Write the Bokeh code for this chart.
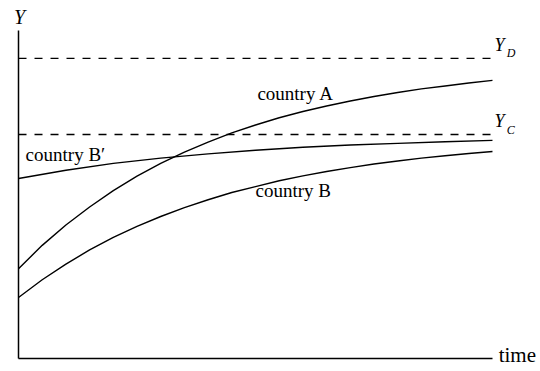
from bokeh.plotting import figure
from bokeh.models import Label, Range1d, LinearAxis, FixedTicker
from bokeh.embed import file_html
from bokeh.resources import INLINE

# ---- data ----
t_fine = [0, 0.5, 1, 1.5, 2, 2.5, 3, 3.5, 4, 4.5, 5, 5.5, 6, 6.5, 7, 7.5, 8, 8.5, 9, 9.5, 10]
country_a = [2.74, 3.45, 4.07, 4.62, 5.12, 5.56, 5.95, 6.29, 6.60, 6.88, 7.12,
             7.34, 7.53, 7.70, 7.85, 7.99, 8.11, 8.22, 8.31, 8.40, 8.48]
country_b = [1.86, 2.40, 2.88, 3.31, 3.69, 4.03, 4.33, 4.60, 4.84, 5.06, 5.24,
             5.42, 5.57, 5.70, 5.82, 5.93, 6.02, 6.11, 6.18, 6.25, 6.31]
t_coarse = [0, 1, 2, 3, 4, 5, 6, 7, 8, 9, 10]
country_b_prime = [5.49, 5.74, 5.95, 6.11, 6.24, 6.35, 6.44, 6.51, 6.56, 6.61, 6.65]
levels = [9.15, 6.83]          # Y_D, Y_C
level_names = ["D", "C"]
t_span = [0, 10]               # extent of the time axis
y_span = [0, 10]               # extent of the Y axis

SERIF = "Liberation Serif"

p = figure(width=540, height=371, output_backend="svg", toolbar_location=None,
           x_range=Range1d(-0.38, 11.013), y_range=Range1d(-0.396, 10.915),
           x_axis_location=None, y_axis_location=None,
           min_border=0, min_border_left=0, min_border_right=0,
           min_border_top=0, min_border_bottom=0)
p.outline_line_color = None
p.xgrid.visible = False
p.ygrid.visible = False
p.background_fill_color = "white"
p.border_fill_color = "white"

def make_axis(bounds):
    ax = LinearAxis(fixed_location=0, bounds=tuple(bounds), ticker=FixedTicker(ticks=[]),
                    axis_line_color="black", axis_line_width=1.5,
                    major_tick_line_color=None, minor_tick_line_color=None,
                    major_tick_out=0, major_tick_in=0, minor_tick_out=0, minor_tick_in=0,
                    major_label_standoff=0)
    return ax

p.add_layout(make_axis(y_span), "left")
p.add_layout(make_axis(t_span), "below")

# dashed reference levels
p.segment(x0=[t_span[0]] * len(levels), x1=[t_span[1]] * len(levels),
          y0=levels, y1=levels, line_color="black", line_width=1.3, line_dash="8 8")

# curves
p.line(t_fine, country_a, line_color="black", line_width=1.4)
p.line(t_fine, country_b, line_color="black", line_width=1.4)
p.line(t_coarse, country_b_prime, line_color="black", line_width=1.4)

def lab(x, y, text, size, style="normal", align="left"):
    p.add_layout(Label(x=x, y=y, text=text, text_font=SERIF, text_font_size=size,
                       text_font_style=style, text_align=align,
                       text_baseline="alphabetic", text_color="black"))

lab(5.04, 8.09, "country A", "19px")
lab(5.00, 5.12, "country B", "19px")
lab(0.15, 6.22, "country B\u2032", "19px")

lab(0.02, 10.40, "Y", "20px", "italic", "center")
lab(10.13, 0.10, "time", "21px")

for lvl, name in zip(levels, level_names):
    lab(10.04, lvl + 0.40, "Y", "18px", "italic")
    lab(10.30, lvl + 0.15, name, "12px", "italic")

open("out.html", "w").write(file_html(p, INLINE))
